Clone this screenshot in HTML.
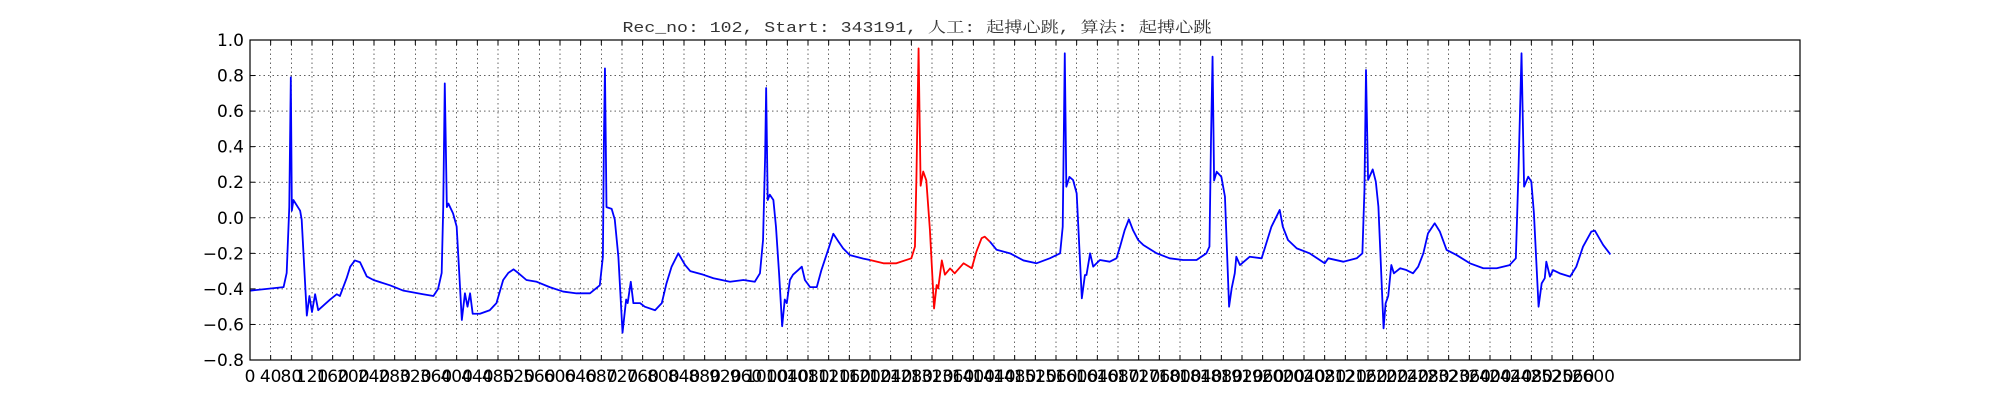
<!DOCTYPE html>
<html><head><meta charset="utf-8"><style>
html,body{margin:0;padding:0;background:#fff;}
svg{display:block;}
</style></head><body>
<svg id="chart" width="2000" height="400" xmlns="http://www.w3.org/2000/svg">
<rect width="2000" height="400" fill="#fff"/>
<text x="917" y="32" font-family="'Liberation Mono','Noto Serif CJK SC',monospace" font-size="15" fill="#333" text-anchor="middle" textLength="589" lengthAdjust="spacingAndGlyphs">Rec_no: 102, Start: 343191, 人工: 起搏心跳, 算法: 起搏心跳</text>
<g id="grid"></g>
<g id="series"></g>
<rect x="250" y="40" width="1550" height="320" fill="none" stroke="#000" stroke-width="1.2"/>
<g id="ticks"></g>
</svg>
<script>
// ---- data ----
const sampleIdx = [0,65,71,76,79,81,84,97,100,110,115,120,126,132,155,168,174,187,194,203,213,226,239,271,297,335,355,364,371,374,377,381,384,393,400,410,416,421,426,431,445,464,477,490,500,510,519,535,555,580,606,632,658,677,683,685,687,690,700,706,713,721,728,731,737,742,755,764,784,797,806,816,829,842,852,877,897,929,955,977,987,993,997,999,1002,1006,1013,1018,1024,1030,1035,1039,1045,1051,1061,1068,1074,1084,1097,1106,1119,1129,1139,1148,1161,1187,1200,1226,1251,1280,1287,1290,1294,1298,1303,1309,1316,1324,1329,1332,1339,1345,1355,1364,1381,1397,1406,1416,1422,1432,1445,1471,1497,1522,1548,1568,1573,1577,1580,1586,1593,1600,1610,1616,1619,1626,1632,1645,1664,1677,1684,1693,1701,1709,1719,1729,1755,1780,1806,1832,1851,1857,1860,1863,1866,1871,1880,1887,1895,1900,1906,1909,1916,1935,1958,1964,1977,1993,1999,2009,2026,2051,2080,2087,2116,2142,2153,2157,2160,2164,2173,2179,2184,2194,2198,2203,2209,2214,2226,2238,2251,2261,2271,2280,2293,2303,2316,2335,2361,2387,2413,2438,2450,2455,2461,2466,2474,2480,2485,2494,2500,2506,2509,2516,2522,2535,2555,2567,2580,2596,2603,2619,2633];
const ecgValues = [-0.41,-0.39,-0.31,0.06,0.79,0.04,0.10,0.04,-0.01,-0.55,-0.44,-0.53,-0.43,-0.52,-0.46,-0.43,-0.44,-0.34,-0.275,-0.24,-0.25,-0.33,-0.35,-0.38,-0.41,-0.43,-0.44,-0.40,-0.31,0.06,0.756,0.06,0.08,0.025,-0.05,-0.575,-0.425,-0.50,-0.425,-0.54,-0.54,-0.52,-0.48,-0.35,-0.31,-0.29,-0.31,-0.35,-0.36,-0.39,-0.415,-0.425,-0.425,-0.38,-0.22,0.44,0.84,0.06,0.05,-0.01,-0.22,-0.646,-0.46,-0.48,-0.36,-0.48,-0.48,-0.50,-0.52,-0.48,-0.37,-0.275,-0.20,-0.265,-0.30,-0.32,-0.34,-0.36,-0.35,-0.36,-0.3125,-0.125,0.344,0.73,0.10,0.13,0.10,-0.05,-0.3125,-0.61,-0.46,-0.48,-0.35,-0.32,-0.294,-0.275,-0.35,-0.39,-0.39,-0.294,-0.18,-0.09,-0.134,-0.172,-0.21,-0.23,-0.2375,-0.256,-0.256,-0.228,-0.1625,0.25,0.953,0.18,0.26,0.21,-0.07,-0.51,-0.378,-0.397,-0.24,-0.32,-0.285,-0.3125,-0.256,-0.284,-0.19,-0.115,-0.106,-0.134,-0.18,-0.2,-0.24,-0.256,-0.228,-0.2,-0.05,0.925,0.175,0.23,0.2125,0.1375,-0.453,-0.322,-0.322,-0.2,-0.275,-0.2375,-0.247,-0.228,-0.1625,-0.069,-0.009,-0.069,-0.125,-0.153,-0.2,-0.228,-0.2375,-0.2375,-0.2,-0.1625,0.4375,0.906,0.21,0.259,0.231,0.119,-0.5,-0.397,-0.3125,-0.219,-0.266,-0.219,-0.228,-0.172,-0.05,0.044,-0.05,-0.125,-0.172,-0.2,-0.256,-0.228,-0.247,-0.228,-0.2,0.156,0.831,0.2125,0.272,0.203,0.0625,-0.622,-0.481,-0.44,-0.266,-0.3125,-0.284,-0.294,-0.3125,-0.275,-0.2,-0.0875,-0.031,-0.078,-0.181,-0.209,-0.256,-0.284,-0.284,-0.266,-0.228,0.25,0.925,0.175,0.231,0.203,0.025,-0.5,-0.369,-0.34,-0.247,-0.331,-0.294,-0.3125,-0.331,-0.275,-0.1625,-0.078,-0.0725,-0.153,-0.206];
const redStart = 1200;
const redEnd = 1432;
const yTickValues = [1.0,0.8,0.6,0.4,0.2,0.0,-0.2,-0.4,-0.6,-0.8];
const xTickValues = [];
for (let t = 0; t <= 2600; t += 40) xTickValues.push(t);

// ---- axes ----
const L=250,R=1800,T=40,B=360, XMAX=3000, YMIN=-0.8, YMAX=1.0;
const sx = v => L + v/XMAX*(R-L);
const sy = v => B - (v-YMIN)/(YMAX-YMIN)*(B-T);
const NS='http://www.w3.org/2000/svg';
function mk(tag, attrs, parent){const e=document.createElementNS(NS,tag);for(const k in attrs)e.setAttribute(k,attrs[k]);parent.appendChild(e);return e;}
const grid=document.getElementById('grid'), ticks=document.getElementById('ticks'), series=document.getElementById('series');

yTickValues.forEach(v=>{
  const y=sy(v);
  const g=mk('line',{x1:L,x2:R,y1:y,y2:y,stroke:'#000','stroke-width':0.6,'stroke-dasharray':'1.5,3'},grid);
  
  
  const t1=mk('line',{x1:L,x2:L+5,y1:y,y2:y,stroke:'#000','stroke-width':1},ticks);
  
  
  const t2=mk('line',{x1:R-5,x2:R,y1:y,y2:y,stroke:'#000','stroke-width':1},ticks);
  
  
  const lab=mk('text',{x:L-6,y:y+6,'text-anchor':'end','font-family':"'DejaVu Sans','Liberation Sans',sans-serif",'font-size':17,fill:'#000'},ticks);
  lab.textContent=(v<0?'\u2212':'')+Math.abs(v).toFixed(1);
  
  
});
xTickValues.forEach(v=>{
  const x=sx(v);
  const g=mk('line',{x1:x,x2:x,y1:T,y2:B,stroke:'#000','stroke-width':0.6,'stroke-dasharray':'1.5,3'},grid);
  
  
  const t1=mk('line',{x1:x,x2:x,y1:B-5,y2:B,stroke:'#000','stroke-width':1},ticks);
  
  
  const t2=mk('line',{x1:x,x2:x,y1:T,y2:T+5,stroke:'#000','stroke-width':1},ticks);
  
  
  const lab=mk('text',{x:x,y:382,'text-anchor':'middle','font-family':"'DejaVu Sans','Liberation Sans',sans-serif",'font-size':17,fill:'#000'},ticks);
  lab.textContent=String(v);
  
  
});

// ---- series ----
function valueAt(s){
  for(let i=1;i<sampleIdx.length;i++){
    if(sampleIdx[i]>=s){const a=sampleIdx[i-1],b=sampleIdx[i];const f=(s-a)/(b-a);return ecgValues[i-1]+f*(ecgValues[i]-ecgValues[i-1]);}
  }
  return ecgValues[ecgValues.length-1];
}
function buildPts(from,to){
  const pts=[[from,valueAt(from)]];
  sampleIdx.forEach((s,i)=>{if(s>from&&s<to)pts.push([s,ecgValues[i]]);});
  pts.push([to,valueAt(to)]);
  return pts.map(p=>sx(p[0]).toFixed(2)+','+sy(p[1]).toFixed(2)).join(' ');
}
const last=sampleIdx[sampleIdx.length-1];
const p1=mk('polyline',{points:buildPts(0,redStart),fill:'none',stroke:'#0000ff','stroke-width':1.8,'stroke-linejoin':'round'},series);


const p2=mk('polyline',{points:buildPts(redStart,redEnd),fill:'none',stroke:'#ff0000','stroke-width':1.8,'stroke-linejoin':'round'},series);


const p3=mk('polyline',{points:buildPts(redEnd,last),fill:'none',stroke:'#0000ff','stroke-width':1.8,'stroke-linejoin':'round'},series);


</script>
</body></html>
